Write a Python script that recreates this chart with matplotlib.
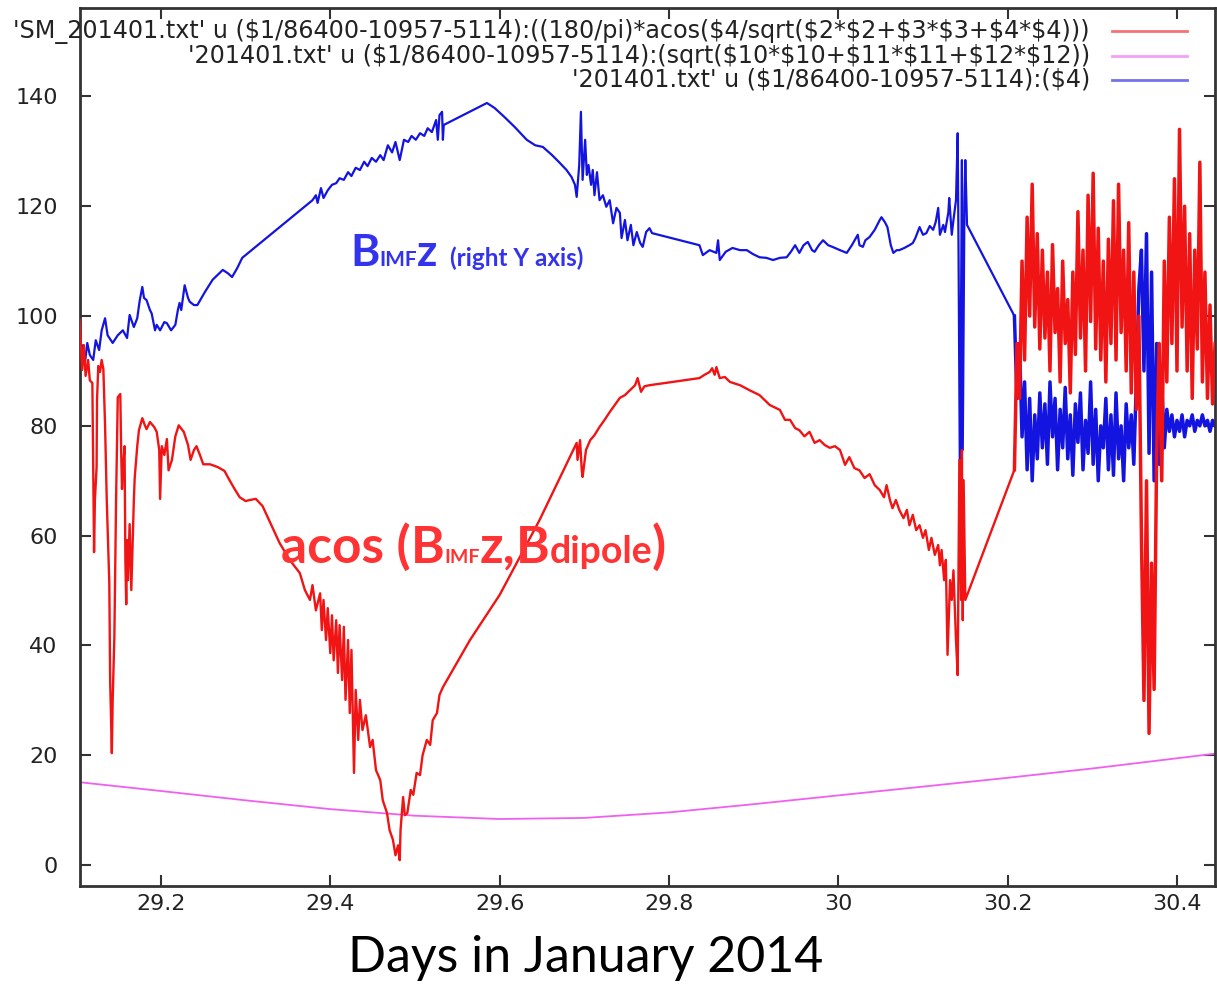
import numpy as np
import matplotlib.pyplot as plt
from matplotlib.lines import Line2D

W, H, DPI = 1217, 984, 100

# --- acos(B_IMFz, B_dipole) in degrees (red) --------------------------------
ACOS_DAYS = [
    29.104, 29.107, 29.109, 29.111, 29.114, 29.116, 29.119, 29.120, 29.121, 29.122,
    29.124, 29.1245, 29.126, 29.128, 29.130, 29.132, 29.134, 29.136, 29.139, 29.140,
    29.142, 29.143, 29.145, 29.147, 29.149, 29.152, 29.153, 29.154, 29.155, 29.157,
    29.158, 29.159, 29.160, 29.161, 29.163, 29.165, 29.166, 29.168, 29.169, 29.172,
    29.174, 29.178, 29.181, 29.183, 29.187, 29.192, 29.195, 29.198, 29.199, 29.201,
    29.204, 29.207, 29.209, 29.213, 29.217, 29.221, 29.227, 29.232, 29.235, 29.239,
    29.242, 29.246, 29.250, 29.258, 29.267, 29.275, 29.281, 29.287, 29.293, 29.300,
    29.305, 29.312, 29.317, 29.320,
    29.340, 29.352, 29.364, 29.370, 29.376, 29.379, 29.383, 29.388, 29.390, 29.392,
    29.395, 29.397, 29.400, 29.402, 29.404, 29.407, 29.409, 29.411, 29.414, 29.416,
    29.418, 29.421, 29.423, 29.425, 29.428, 29.430, 29.433, 29.435, 29.438, 29.442,
    29.447, 29.450, 29.454, 29.459, 29.462, 29.467, 29.470, 29.474, 29.477, 29.480,
    29.482, 29.483, 29.486, 29.488, 29.491, 29.495, 29.498, 29.502, 29.506, 29.509,
    29.514, 29.518, 29.521, 29.526, 29.529, 29.533,
    29.565, 29.600, 29.647,
    29.691, 29.692, 29.695, 29.697, 29.698, 29.702, 29.707, 29.712, 29.718, 29.724,
    29.730, 29.736, 29.742, 29.748, 29.754, 29.760, 29.763, 29.767, 29.771, 29.777,
    29.836, 29.842, 29.848, 29.851, 29.854, 29.856, 29.860, 29.866, 29.872, 29.884,
    29.895, 29.907, 29.919, 29.931, 29.937, 29.943, 29.949, 29.954, 29.960, 29.966,
    29.972, 29.978, 29.984, 29.990, 29.996, 30.002, 30.008, 30.013, 30.019, 30.025,
    30.031, 30.037, 30.043, 30.049, 30.054, 30.057, 30.061, 30.064, 30.068, 30.072,
    30.077, 30.081, 30.084, 30.088, 30.092, 30.096, 30.100, 30.103, 30.107, 30.110,
    30.114, 30.118, 30.120, 30.122, 30.125, 30.127, 30.129, 30.132, 30.134, 30.136,
    30.139, 30.141, 30.143, 30.145, 30.146, 30.147, 30.148, 30.150,
]
ACOS_DEG = [
    99.3, 90.2, 94.7, 89.1, 92.0, 88.3, 87.8, 71.9, 57.0, 66.5,
    72.5, 84.7, 90.9, 89.8, 92.0, 90.3, 80.1, 66.5, 51.4, 33.7,
    20.4, 30.1, 41.7, 66.5, 85.2, 85.8, 75.6, 68.5, 71.9, 76.3,
    55.6, 47.5, 59.2, 51.9, 62.1, 50.1, 55.7, 66.5, 70.5, 76.3,
    79.2, 81.4, 80.1, 79.4, 80.7, 79.8, 78.9, 75.6, 66.7, 76.3,
    74.7, 77.6, 71.9, 73.8, 78.1, 80.1, 78.9, 76.5, 73.8, 75.6,
    76.3, 74.7, 73.0, 73.0, 72.5, 71.8, 70.1, 68.5, 67.0, 66.3,
    66.5, 66.7, 65.9, 65.4,
    58.7, 55.6, 53.2, 50.1, 48.3, 51.0, 46.4, 49.5, 42.8, 48.3,
    41.0, 46.8, 38.6, 45.5, 37.3, 44.6, 35.0, 43.7, 33.7, 43.4,
    30.1, 41.0, 27.7, 39.2, 16.8, 31.9, 22.8, 30.1, 24.6, 27.3,
    21.5, 22.8, 17.3, 15.5, 11.8, 9.5, 6.4, 4.6, 1.8, 3.6,
    0.9, 6.4, 12.4, 9.1, 9.5, 13.7, 12.8, 16.8, 16.4, 20.0,
    22.8, 21.9, 26.4, 27.7, 31.0, 32.4,
    41.0, 49.2, 62.8,
    76.9, 73.8, 77.4, 71.9, 70.7, 75.6, 77.4, 78.3, 79.8, 81.1,
    82.5, 83.8, 85.1, 85.6, 86.5, 87.4, 88.7, 86.2, 87.2, 87.4,
    88.7, 89.3, 89.8, 90.5, 89.3, 90.7, 88.7, 88.9, 88.0, 87.4,
    86.5, 85.6, 83.8, 82.9, 81.1, 81.1, 79.6, 79.2, 78.1, 78.9,
    76.9, 77.4, 76.5, 76.0, 76.3, 75.6, 72.9, 74.3, 72.3, 71.9,
    70.5, 71.2, 69.2, 68.3, 67.0, 69.2, 66.5, 65.0, 66.5, 64.7,
    63.2, 64.7, 61.9, 63.8, 61.0, 61.9, 59.6, 61.0, 57.4, 59.6,
    56.5, 58.3, 54.6, 57.4, 51.9, 55.6, 38.3, 51.9, 48.3, 53.7,
    41.0, 34.6, 73.8, 48.3, 75.6, 44.6, 70.1, 48.3,
]
# dense, evenly sampled readings of the last stretch (30.208 .. 30.445)
ACOS_TAIL_DEG = [
    72, 95, 85, 110, 92, 118, 100, 124, 98, 115,
    94, 112, 96, 108, 90, 113, 97, 105, 88, 110,
    95, 103, 86, 108, 93, 119, 96, 112, 90, 122,
    99, 126, 94, 116, 92, 110, 88, 114, 95, 121,
    92, 124, 97, 112, 90, 117, 86, 108, 83, 100,
    60, 30, 70, 24, 55, 32, 75, 95, 70, 110,
    88, 118, 95, 125, 90, 134, 98, 120, 90, 115,
    85, 112, 94, 128, 88, 108, 85, 102, 84, 95,
]

# --- B_IMF z (blue) ----------------------------------------------------------
BZ_DAYS = [
    29.104, 29.108, 29.110, 29.113, 29.116, 29.120, 29.123, 29.127, 29.130, 29.134,
    29.137, 29.143, 29.149, 29.155, 29.160, 29.163, 29.168, 29.172, 29.175, 29.178,
    29.180, 29.183, 29.187, 29.189, 29.193, 29.195, 29.199, 29.204, 29.207, 29.212,
    29.217, 29.220, 29.222, 29.224, 29.228, 29.232, 29.234, 29.239, 29.243, 29.252,
    29.261, 29.267, 29.273, 29.279, 29.284, 29.290, 29.296,
    29.379, 29.383, 29.385, 29.389, 29.392, 29.397, 29.402, 29.407, 29.411, 29.416,
    29.421, 29.425, 29.430, 29.435, 29.440, 29.444, 29.449, 29.454, 29.459, 29.463,
    29.468, 29.473, 29.477, 29.482, 29.487, 29.492, 29.496, 29.501, 29.506, 29.511,
    29.515, 29.520, 29.525, 29.527, 29.529, 29.532, 29.533, 29.534,
    29.585, 29.594, 29.606, 29.618, 29.632, 29.642, 29.651, 29.662, 29.671, 29.679,
    29.685, 29.689, 29.691, 29.694, 29.696, 29.698, 29.701, 29.703, 29.705, 29.708,
    29.710, 29.712, 29.715, 29.718, 29.722, 29.726, 29.730, 29.734, 29.738, 29.742,
    29.744, 29.748, 29.751, 29.755, 29.758, 29.762, 29.766, 29.769, 29.773, 29.777,
    29.780,
    29.836, 29.840, 29.848, 29.856, 29.858, 29.860, 29.867, 29.875, 29.884, 29.892,
    29.899, 29.907, 29.915, 29.923, 29.931, 29.939, 29.944, 29.949, 29.954, 29.959,
    29.964, 29.969, 29.972, 29.977, 29.982, 29.988, 29.993, 30.002, 30.010, 30.016,
    30.023, 30.025, 30.029, 30.032, 30.037, 30.043, 30.049, 30.051, 30.055, 30.058,
    30.062, 30.065, 30.069, 30.072, 30.078, 30.084, 30.088, 30.091, 30.096, 30.100,
    30.104, 30.108, 30.112, 30.115, 30.118, 30.120, 30.124, 30.126, 30.130, 30.131,
    30.134, 30.136, 30.139, 30.141, 30.142, 30.144, 30.145, 30.146, 30.147, 30.149,
    30.150, 30.152,
]
BZ_VAL = [
    92.5, 94.7, 91.1, 95.1, 92.9, 92.0, 95.6, 93.8, 97.4, 99.6,
    96.5, 95.1, 96.5, 97.4, 96.0, 100.2, 98.0, 99.6, 102.9, 105.3,
    103.3, 102.9, 101.1, 100.5, 97.4, 98.4, 97.4, 98.9, 98.7, 97.4,
    98.4, 101.1, 102.4, 101.1, 105.6, 103.3, 102.6, 102.0, 102.0, 104.4,
    106.6, 107.5, 108.4, 107.8, 107.1, 108.7, 110.6,
    121.1, 122.0, 120.6, 123.3, 121.5, 122.9, 123.9, 124.2, 125.1, 124.8,
    126.2, 125.5, 127.0, 126.6, 128.1, 127.3, 128.8, 128.1, 129.3, 128.4,
    131.1, 129.8, 131.7, 128.4, 132.1, 131.7, 132.8, 132.1, 133.3, 132.8,
    134.2, 133.5, 135.7, 132.1, 136.6, 137.2, 132.1, 134.8,
    138.8, 137.9, 136.2, 134.4, 132.1, 131.1, 130.8, 129.3, 127.9, 126.6,
    125.3, 123.9, 121.7, 127.5, 137.2, 124.8, 132.1, 125.7, 127.5, 123.9,
    126.6, 122.0, 126.2, 121.1, 122.0, 119.9, 121.1, 116.9, 119.7, 118.8,
    114.2, 117.5, 113.8, 116.6, 112.9, 115.3, 113.3, 112.6, 115.3, 116.0,
    115.1,
    112.9, 111.1, 112.0, 111.5, 113.8, 110.2, 111.7, 112.4, 112.0, 112.0,
    111.3, 110.7, 110.6, 110.2, 110.6, 110.7, 111.7, 112.9, 111.5, 112.9,
    113.5, 112.0, 111.7, 112.9, 113.8, 112.9, 112.6, 112.0, 111.5, 112.9,
    114.8, 112.9, 112.6, 113.8, 114.4, 115.7, 117.5, 118.0, 117.1, 116.2,
    112.9, 111.5, 112.0, 112.0, 112.4, 112.9, 113.3, 114.2, 116.2, 114.8,
    115.1, 116.4, 115.7, 117.1, 119.7, 114.8, 116.6, 115.3, 118.9, 121.5,
    114.8, 117.5, 121.1, 133.3, 112.0, 60.0, 102.9, 128.4, 75.6, 121.1,
    128.4, 116.6,
]
BZ_TAIL = [
    100, 85, 95, 78, 88, 72, 85, 70, 82, 74,
    86, 76, 84, 73, 88, 78, 85, 72, 83, 76,
    87, 74, 82, 71, 84, 77, 86, 72, 81, 75,
    88, 73, 83, 70, 80, 76, 85, 72, 82, 71,
    86, 74, 80, 70, 84, 76, 82, 73, 88, 105,
    112, 90, 115, 75, 108, 70, 95, 73, 88, 76,
    83, 79, 82, 78, 81, 79, 82, 78, 81, 80,
    82, 79, 81, 80, 82, 80, 81, 79, 81, 80,
]
TAIL_START, TAIL_END = 30.208, 30.445

# --- |B_dipole| (magenta) ----------------------------------------------------
DIPOLE_DAYS = [29.104, 29.2, 29.3, 29.4, 29.5, 29.6, 29.7, 29.8, 29.9, 30.0, 30.1, 30.2, 30.3, 30.445]
DIPOLE_VAL = [15.1, 13.5, 11.8, 10.2, 9.0, 8.4, 8.6, 9.6, 11.1, 12.7, 14.3, 15.9, 17.6, 20.3]

LEGEND_LABELS = [
    "'SM_201401.txt' u ($1/86400-10957-5114):((180/pi)*acos($4/sqrt($2*$2+$3*$3+$4*$4)))",
    "'201401.txt' u ($1/86400-10957-5114):(sqrt($10*$10+$11*$11+$12*$12))",
    "'201401.txt' u ($1/86400-10957-5114):($4)",
]
X_TICKS = [29.2, 29.4, 29.6, 29.8, 30.0, 30.2, 30.4]
X_TICK_LABELS = ["29.2", "29.4", "29.6", "29.8", "30", "30.2", "30.4"]
Y_TICKS = [0, 20, 40, 60, 80, 100, 120, 140]

RED = "#f01414"
MAGENTA = "#f060f0"
BLUE = "#1414e0"
FONT = ["Lato", "DejaVu Sans"]


def draw_pieces(fig, x_px, y_px, pieces, color):
    """Write a run of text pieces of mixed sizes on one baseline (pixel coords)."""
    renderer = fig.canvas.get_renderer()
    x = x_px
    for text, size, gap in pieces:
        t = fig.text(x / W, 1 - y_px / H, text, fontsize=size, color=color,
                     family=FONT, weight="bold", ha="left", va="baseline")
        x += t.get_window_extent(renderer).width + gap


fig = plt.figure(figsize=(W / DPI, H / DPI), dpi=DPI)
ax = fig.add_axes([80 / W, 1 - 886 / H, (1215 - 80) / W, (886 - 8) / H])

tail_red_x = np.linspace(TAIL_START, TAIL_END, len(ACOS_TAIL_DEG))
tail_blue_x = np.linspace(TAIL_START, TAIL_END, len(BZ_TAIL))

# main traces, then the dense noisy tails a bit heavier (they read as bands)
ax.plot(np.concatenate([BZ_DAYS, tail_blue_x[:1]]), BZ_VAL + BZ_TAIL[:1],
        color=BLUE, lw=1.6, zorder=2)
ax.plot(tail_blue_x, BZ_TAIL, color=BLUE, lw=2.5, zorder=2)
ax.plot(DIPOLE_DAYS, DIPOLE_VAL, color=MAGENTA, lw=1.3, zorder=2)
ax.plot(np.concatenate([ACOS_DAYS, tail_red_x[:1]]), ACOS_DEG + ACOS_TAIL_DEG[:1],
        color=RED, lw=1.7, zorder=3)
ax.plot(tail_red_x, ACOS_TAIL_DEG, color=RED, lw=2.5, zorder=3)

ax.set_xlim(29.1044, 30.4449)
ax.set_ylim(-3.8, 156.1)
ax.set_xticks(X_TICKS)
ax.set_xticklabels(X_TICK_LABELS)
ax.set_yticks(Y_TICKS)
ax.tick_params(direction="in", top=True, right=True, length=8, width=1.5,
               labelsize=16, labelcolor="#222222", color="#333333")
ax.tick_params(axis="y", pad=16)
ax.tick_params(axis="x", pad=6)
for s in ax.spines.values():
    s.set_color("#333333")
    s.set_linewidth(2)

# gnuplot-style key: right-aligned labels with the line sample after them
for i, (label, col) in enumerate(zip(LEGEND_LABELS, [RED, MAGENTA, BLUE])):
    y = 31 + i * 24.5
    fig.text(1090 / W, 1 - y / H, label, fontsize=17.2, color="#222222",
             ha="right", va="center", parse_math=False)
    fig.add_artist(Line2D([1112 / W, 1187 / W], [1 - y / H, 1 - y / H],
                          color=col, lw=2, alpha=0.6))

draw_pieces(fig, 350, 266, [("B", 32, 0), ("IMF", 15, 0), ("z", 32, 13),
                            ("(right Y axis)", 17.5, 0)], "#3333ee")
draw_pieces(fig, 281, 563, [("acos (", 37, 0), ("B", 37, 0), ("IMF", 14, 0),
                            ("z,", 37, 0), ("B", 37, 0), ("dipole", 27, 0),
                            (")", 37, 0)], "#ff3333")

fig.text(586 / W, 1 - 958 / H, "Days in January 2014", fontsize=36,
         family=FONT, color="black", ha="center", va="center")

fig.savefig("out.png", dpi=DPI)
